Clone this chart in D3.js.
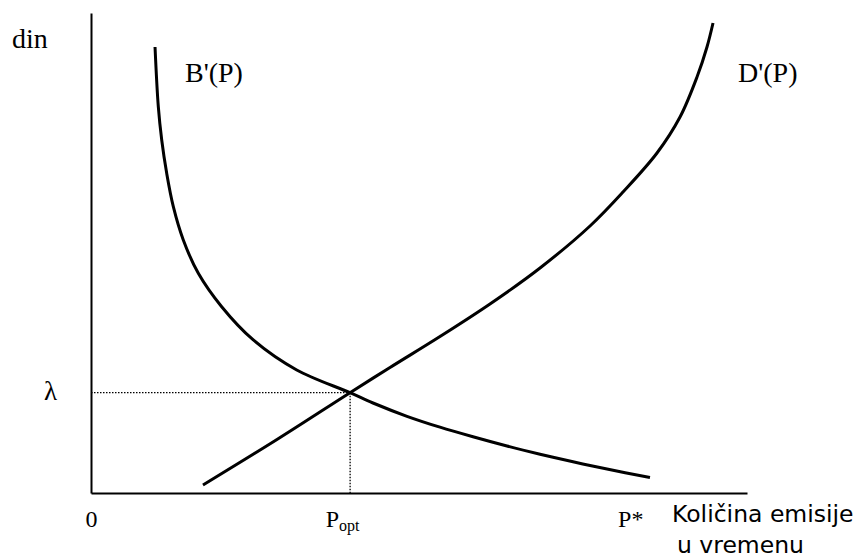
<!DOCTYPE html>
<html>
<head>
<meta charset="utf-8">
<script src="https://cdn.jsdelivr.net/npm/d3@7"></script>
<style>
  body { margin: 0; background: #fff; }
  .serif { font-family: "Liberation Serif", "DejaVu Serif", "Times New Roman", Times, serif; }
  .sans { font-family: "DejaVu Sans", Verdana, Tahoma, sans-serif; }
</style>
</head>
<body>
<svg id="chart" width="859" height="560"></svg>
<script>
// marginal benefit curve B'(P)
const benefitX = [9.76, 10.26, 10.78, 11.54, 12.55, 14.07, 16.36, 19.92, 24.74, 31.36, 39.48, 42.99, 48.17, 53.20, 58.23, 63.41, 68.45, 73.48, 78.66, 85.21];
const benefitY = [92.92, 80.48, 73.54, 66.60, 59.65, 52.71, 45.77, 38.81, 31.88, 25.63, 20.90, 18.75, 15.98, 13.71, 11.71, 9.79, 8.08, 6.50, 5.00, 3.21];
// marginal damage curve D'(P)
const damageX = [17.07, 28.35, 39.48, 45.58, 53.20, 60.82, 68.45, 76.07, 81.10, 86.28, 89.79, 92.38, 93.90, 94.82];
const damageY = [1.67, 11.15, 20.90, 26.15, 32.60, 39.38, 46.88, 55.63, 62.71, 70.83, 78.33, 86.67, 92.92, 97.92];

const pOpt = 39.5;
const lambda = 20.9;
const pStar = 82.2;

const svg = d3.select('#chart');
const margin = { top: 13, right: 112, bottom: 67, left: 91 };
const width = +svg.attr('width');
const height = +svg.attr('height');
const innerWidth = width - margin.left - margin.right;
const innerHeight = height - margin.top - margin.bottom;

const xScale = d3.scaleLinear().domain([0, 100]).range([0, innerWidth]);
const yScale = d3.scaleLinear().domain([0, 100]).range([innerHeight, 0]);

const g = svg.append('g')
  .attr('transform', `translate(${margin.left}, ${margin.top})`);

// dotted guides to the optimum
g.append('line')
  .attr('x1', 0).attr('x2', xScale(pOpt))
  .attr('y1', yScale(lambda)).attr('y2', yScale(lambda))
  .attr('stroke', '#000').attr('stroke-width', 1.3)
  .attr('stroke-dasharray', '1.5,1.5');
g.append('line')
  .attr('x1', xScale(pOpt)).attr('x2', xScale(pOpt))
  .attr('y1', yScale(lambda)).attr('y2', innerHeight)
  .attr('stroke', '#000').attr('stroke-width', 1.3)
  .attr('stroke-dasharray', '1.5,1.5');

const line = d3.line()
  .x(d => xScale(d[0]))
  .y(d => yScale(d[1]))
  .curve(d3.curveCatmullRom.alpha(0.5));

g.append('path')
  .datum(d3.zip(benefitX, benefitY))
  .attr('d', line)
  .attr('fill', 'none').attr('stroke', '#000').attr('stroke-width', 3);

g.append('path')
  .datum(d3.zip(damageX, damageY))
  .attr('d', line)
  .attr('fill', 'none').attr('stroke', '#000').attr('stroke-width', 3);

// axes
const xAxis = d3.axisBottom(xScale)
  .tickValues([0, pOpt, pStar])
  .tickSize(0)
  .tickSizeOuter(0)
  .tickPadding(12)
  .tickFormat(() => '');

const xAxisG = g.append('g')
  .attr('transform', `translate(0, ${innerHeight})`)
  .call(xAxis)
  .attr('font-family', null);

xAxisG.selectAll('.tick text')
  .attr('class', 'serif')
  .attr('font-size', 24)
  .attr('dy', '0.9em')
  .each(function (d) {
    const t = d3.select(this);
    if (d === 0) {
      t.text('0');
    } else if (d === pOpt) {
      t.attr('dx', '-8');
      t.append('tspan').text('P');
      t.append('tspan').attr('font-size', 16).attr('dy', '0.3em').text('opt');
    } else {
      t.text('P*');
    }
  });

const yAxis = d3.axisLeft(yScale)
  .tickValues([lambda])
  .tickSize(0)
  .tickSizeOuter(0)
  .tickPadding(34)
  .tickFormat(() => 'λ');

const yAxisG = g.append('g').call(yAxis).attr('font-family', null);
yAxisG.selectAll('.tick text')
  .attr('class', 'serif')
  .attr('font-size', 27)
  .attr('dy', '0.25em');

g.selectAll('.domain').attr('stroke', '#000').attr('stroke-width', 2);

// labels
const label = (x, y, size, txt, cls) => svg.append('text')
  .attr('class', cls)
  .attr('x', x).attr('y', y)
  .attr('font-size', size)
  .attr('fill', '#000')
  .text(txt);

label(12, 48, 28, 'din', 'serif');
label(185, 82, 28, "B'(P)", 'serif');
label(738, 82, 28, "D'(P)", 'serif');
label(672, 522, 23.5, 'Količina emisije', 'sans');
label(677, 553, 23.5, 'u vremenu', 'sans');
</script>
</body>
</html>
